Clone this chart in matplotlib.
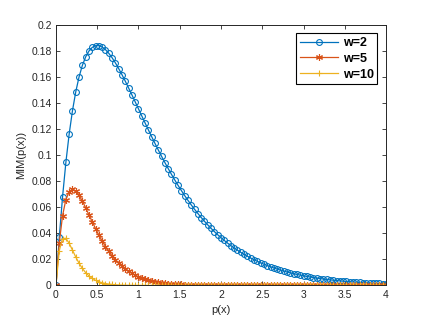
import numpy as np
import matplotlib
matplotlib.use("Agg")
import matplotlib.pyplot as plt

plt.rcParams['font.family'] = ['Liberation Sans', 'DejaVu Sans']

# sample positions p(x): 0 to 4 in steps of 0.04
px = np.linspace(0, 4, 101)

mim_w2 = [
    0.0, 0.03692, 0.06817, 0.09440, 0.11618, 0.13406, 0.14851, 0.15994, 0.16873, 0.17523,
    0.17973, 0.18250, 0.18379, 0.18380, 0.18272, 0.18072, 0.17794, 0.17453, 0.17059, 0.16622,
    0.16152, 0.15655, 0.15140, 0.14611, 0.14074, 0.13534, 0.12993, 0.12455, 0.11923, 0.11400,
    0.10886, 0.10384, 0.09895, 0.09420, 0.08959, 0.08513, 0.08083, 0.07669, 0.07271, 0.06888,
    0.06522, 0.06171, 0.05835, 0.05515, 0.05209, 0.04918, 0.04641, 0.04377, 0.04127, 0.03889,
    0.03663, 0.03449, 0.03246, 0.03054, 0.02873, 0.02701, 0.02539, 0.02385, 0.02241, 0.02104,
    0.01975, 0.01854, 0.01739, 0.01631, 0.01530, 0.01434, 0.01344, 0.01260, 0.01180, 0.01106,
    0.01035, 0.00970, 0.00907, 0.00849, 0.00795, 0.00744, 0.00696, 0.00651, 0.00608, 0.00569,
    0.00532, 0.00497, 0.00464, 0.00434, 0.00406, 0.00379, 0.00354, 0.00330, 0.00308, 0.00288,
    0.00269, 0.00251, 0.00234, 0.00218, 0.00204, 0.00190, 0.00177, 0.00165, 0.00154, 0.00144,
    0.00134,
]

mim_w5 = [
    0.0, 0.03275, 0.05363, 0.06586, 0.07189, 0.07358, 0.07229, 0.06905, 0.06461, 0.05951,
    0.05413, 0.04875, 0.04354, 0.03862, 0.03405, 0.02987, 0.02609, 0.02269, 0.01967, 0.01700,
    0.01465, 0.01260, 0.01080, 0.00925, 0.00790, 0.00674, 0.00574, 0.00488, 0.00414, 0.00351,
    0.00297, 0.00252, 0.00213, 0.00180, 0.00152, 0.00128, 0.00108, 0.00090, 0.00076, 0.00064,
    0.00054, 0.00045, 0.00038, 0.00031, 0.00026, 0.00022, 0.00018, 0.00015, 0.00012, 0.00010,
    0.00009, 0.00007, 0.00006, 0.00005, 0.00004, 0.00003, 0.00003, 0.00002, 0.00002, 0.00001,
    0.00001, 0.00001, 0.00001, 0.0, 0.0, 0.0, 0.0, 0.0, 0.0, 0.0,
    0.0, 0.0, 0.0, 0.0, 0.0, 0.0, 0.0, 0.0, 0.0, 0.0,
    0.0, 0.0, 0.0, 0.0, 0.0, 0.0, 0.0, 0.0, 0.0, 0.0,
    0.0, 0.0, 0.0, 0.0, 0.0, 0.0, 0.0, 0.0, 0.0, 0.0,
    0.0,
]

mim_w10 = [
    0.0, 0.02681, 0.03595, 0.03614, 0.03230, 0.02707, 0.02177, 0.01703, 0.01304, 0.00984,
    0.00733, 0.00540, 0.00395, 0.00287, 0.00207, 0.00149, 0.00106, 0.00076, 0.00054, 0.00038,
    0.00027, 0.00019, 0.00013, 0.00009, 0.00006, 0.00005, 0.00003, 0.00002, 0.00001, 0.00001,
    0.0, 0.0, 0.0, 0.0, 0.0, 0.0, 0.0, 0.0, 0.0, 0.0,
    0.0, 0.0, 0.0, 0.0, 0.0, 0.0, 0.0, 0.0, 0.0, 0.0,
    0.0, 0.0, 0.0, 0.0, 0.0, 0.0, 0.0, 0.0, 0.0, 0.0,
    0.0, 0.0, 0.0, 0.0, 0.0, 0.0, 0.0, 0.0, 0.0, 0.0,
    0.0, 0.0, 0.0, 0.0, 0.0, 0.0, 0.0, 0.0, 0.0, 0.0,
    0.0, 0.0, 0.0, 0.0, 0.0, 0.0, 0.0, 0.0, 0.0, 0.0,
    0.0, 0.0, 0.0, 0.0, 0.0, 0.0, 0.0, 0.0, 0.0, 0.0,
    0.0,
]

labels = ["w=2", "w=5", "w=10"]
x_ticks = [0, 0.5, 1, 1.5, 2, 2.5, 3, 3.5, 4]
y_ticks = [0, 0.02, 0.04, 0.06, 0.08, 0.1, 0.12, 0.14, 0.16, 0.18, 0.2]

fig = plt.figure(figsize=(4.28, 3.22), dpi=100)
ax = fig.add_axes([0.1308, 0.1134, 0.7711, 0.8105])

# matlab-ish: open circles, line asterisk, plus
ax.plot(px, mim_w2, color='#0072BD', lw=0.9, marker='o', ms=4.2, mfc='none', mew=0.8, label=labels[0])
ax.plot(px, mim_w5, color='#D95319', lw=0.9, marker=(6, 2, 0), ms=5, mew=0.8, label=labels[1])
ax.plot(px, mim_w10, color='#EDB120', lw=0.9, marker='+', ms=5, mew=0.8, label=labels[2])

ax.set_xlim(0, 4)
ax.set_ylim(0, 0.2)
ax.set_xticks(x_ticks)
ax.set_xticklabels([f"{t:g}" for t in x_ticks])
ax.set_yticks(y_ticks)
ax.set_yticklabels([f"{t:g}" for t in y_ticks])
ax.tick_params(direction='in', top=True, right=True, length=3, width=0.6,
               labelsize=7.5, colors='#262626', pad=3)
for s in ax.spines.values():
    s.set_linewidth(0.7)
    s.set_color('#262626')

ax.set_xlabel("p(x)", fontsize=8, color='#262626', labelpad=4)
ax.set_ylabel("MIM(p(x))", fontsize=8, color='#262626', labelpad=4)

leg = ax.legend(loc='upper right', bbox_to_anchor=(0.993, 0.99), prop={'weight': 'bold', 'size': 9},
                fancybox=False, edgecolor='black', framealpha=1, handlelength=3.0,
                borderpad=0.3, labelspacing=0.3, handletextpad=0.4)
leg.get_frame().set_linewidth(0.8)

fig.savefig("out.png", dpi=100)
